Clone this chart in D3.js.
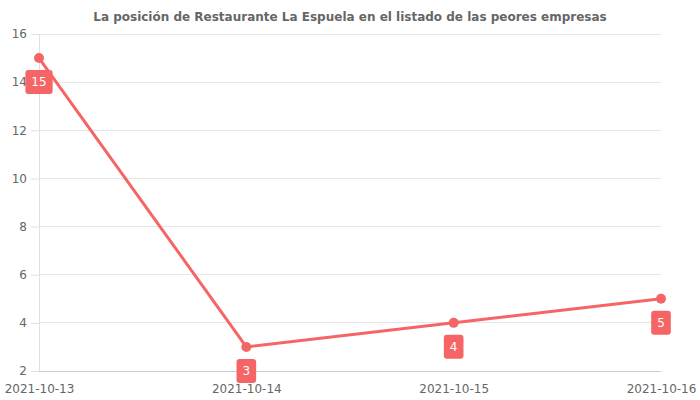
<!DOCTYPE html>
<html><head><meta charset="utf-8">
<script src="https://cdn.jsdelivr.net/npm/d3@7"></script>
<style>body{margin:0;background:#fff;}svg{display:block;font-family:"DejaVu Sans",sans-serif;}</style>
</head><body><svg id="c" width="700" height="400"></svg>
<script>
const title = "La posición de Restaurante La Espuela en el listado de las peores empresas";
const dates = ["2021-10-13","2021-10-14","2021-10-15","2021-10-16"];
const positions = [15, 3, 4, 5];
const yTicks = [2,4,6,8,10,12,14,16];
const color = "#f56565";

const svg = d3.select("#c");
const m = {l:39, r:661, t:34, b:371};
const x = d3.scalePoint().domain(dates).range([m.l, m.r]);
const y = d3.scaleLinear().domain([2,16]).range([m.b, m.t]);

svg.append("text").attr("x",350).attr("y",21).attr("text-anchor","middle")
  .attr("font-size",12).attr("font-weight","bold").attr("fill","#666").text(title);

// grid
const yAxis = svg.append("g").attr("transform",`translate(${m.l},0)`)
  .call(d3.axisLeft(y).tickValues(yTicks).tickSize(8).tickPadding(4).tickFormat(d3.format("d")));
yAxis.select(".domain").remove();
yAxis.selectAll(".tick line").attr("stroke","#e0e0e0");
yAxis.selectAll(".tick text").attr("fill","#666").attr("font-size",12).attr("font-family","DejaVu Sans");
svg.append("g").selectAll("line").data(yTicks).join("line")
  .attr("x1",m.l).attr("x2",m.r).attr("y1",d=>y(d)).attr("y2",d=>y(d))
  .attr("stroke",(d)=> d===2 ? "#cccccc" : "#e6e6e6").attr("stroke-width",1).attr("shape-rendering","crispEdges");
svg.append("line").attr("x1",m.l).attr("x2",m.l).attr("y1",m.t).attr("y2",m.b)
  .attr("stroke","#e0e0e0").attr("shape-rendering","crispEdges");

const xAxis = svg.append("g").attr("transform",`translate(0,${m.b})`)
  .call(d3.axisBottom(x).tickSize(0).tickPadding(13));
xAxis.select(".domain").remove();
xAxis.selectAll(".tick text").attr("fill","#666").attr("font-size",12).attr("font-family","DejaVu Sans");

const data = dates.map((d,i)=>({d, v:positions[i]}));
svg.append("path").datum(data)
  .attr("d", d3.line().x(p=>x(p.d)).y(p=>y(p.v)))
  .attr("fill","none").attr("stroke",color).attr("stroke-width",3);
svg.append("g").selectAll("circle").data(data).join("circle")
  .attr("cx",p=>x(p.d)).attr("cy",p=>y(p.v)).attr("r",5).attr("fill",color);

const lab = svg.append("g").selectAll("g").data(data).join("g")
  .attr("transform",p=>`translate(${x(p.d)},${y(p.v)+24})`);
lab.each(function(p){
  const g = d3.select(this);
  const t = g.append("text").attr("text-anchor","middle").attr("dy","0.35em")
    .attr("font-size",12).attr("fill","#fff").text(p.v);
  const w = t.node().getComputedTextLength() + 12;
  g.insert("rect","text").attr("x",-w/2).attr("y",-12).attr("width",w).attr("height",24)
    .attr("rx",3).attr("fill",color);
});
</script></body></html>
